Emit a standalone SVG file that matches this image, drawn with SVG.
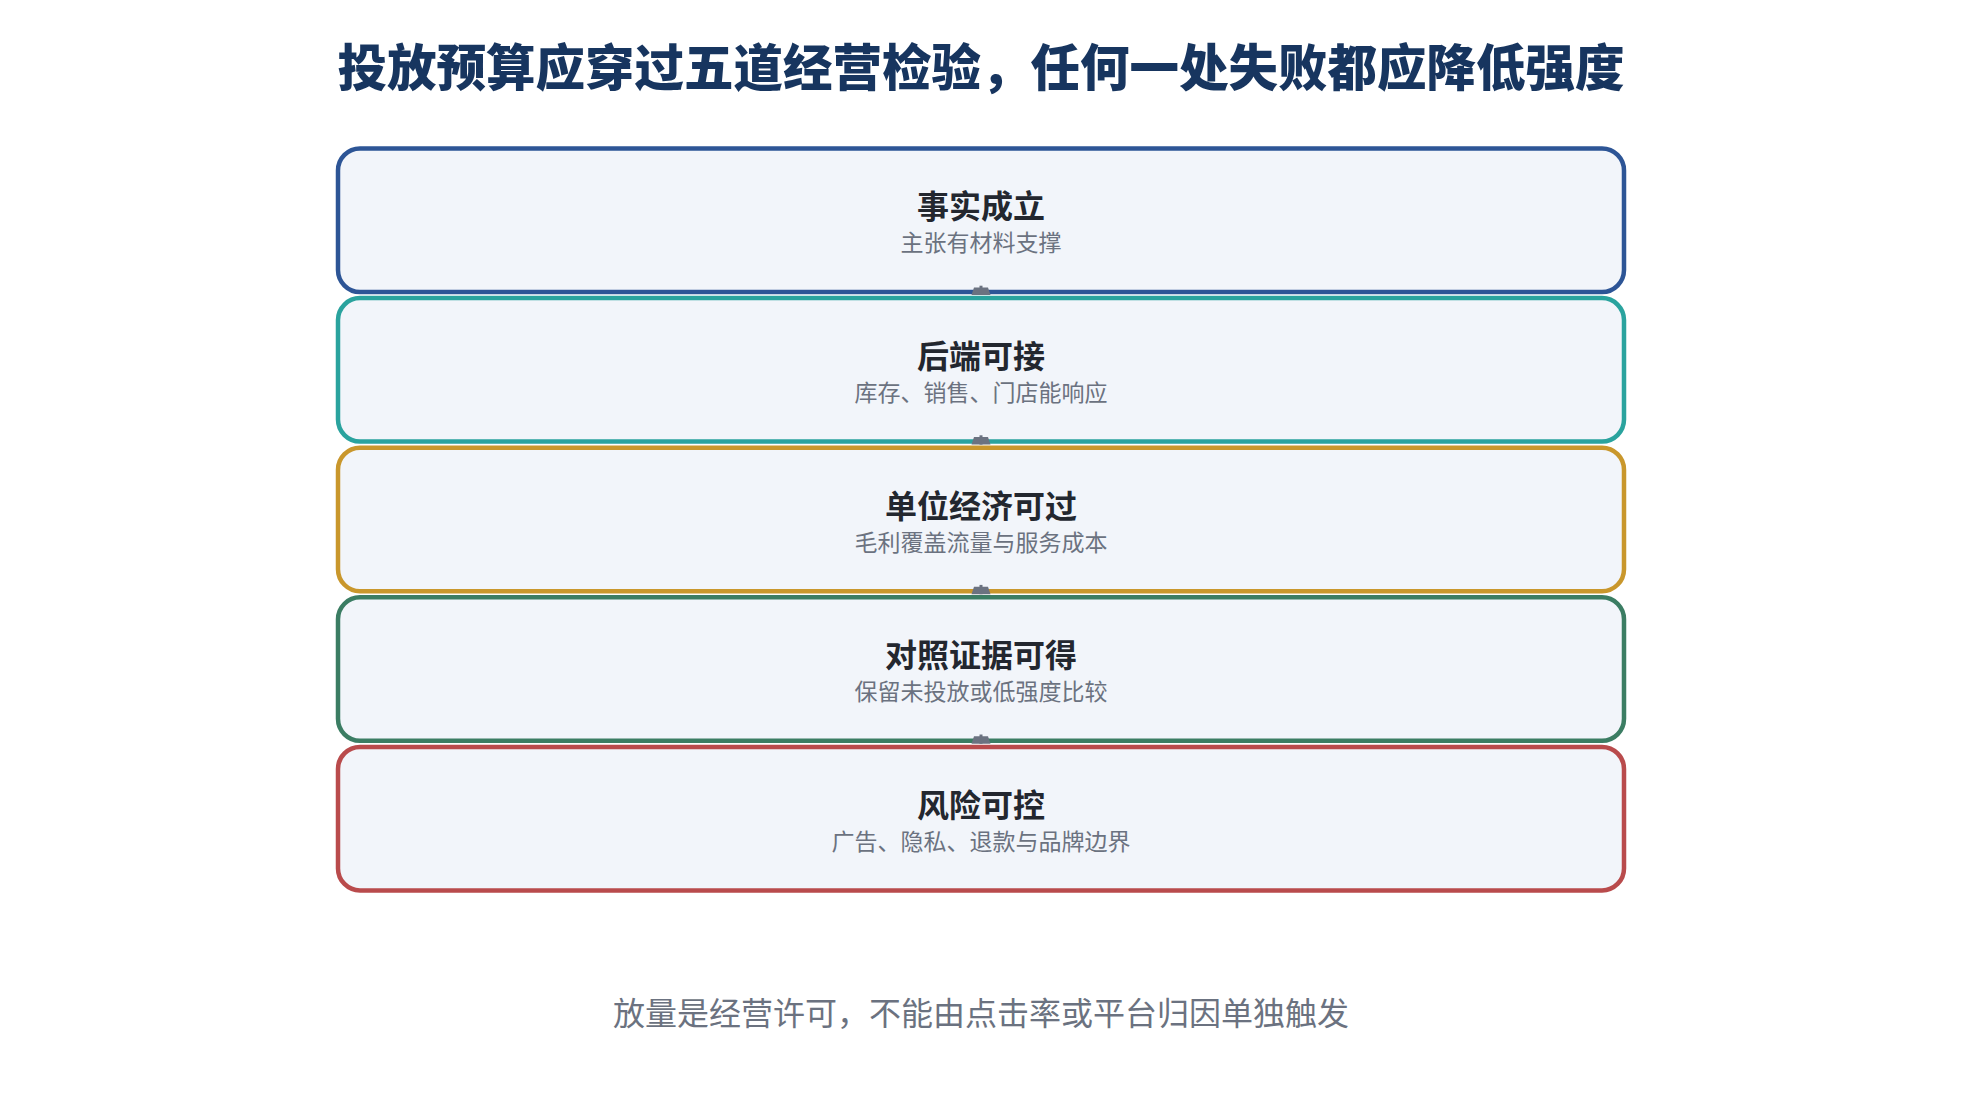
<svg xmlns="http://www.w3.org/2000/svg" width="1962" height="1109" viewBox="0 0 1962 1109">
<defs>
<style>
text{font-family:"Noto Sans CJK SC","Noto Sans",sans-serif;text-anchor:middle}
.title{font-size:49.5px;font-weight:900;fill:#17355f}
.box{fill:#f2f5fa;stroke-width:4.5}
.nt{font-size:32px;font-weight:700;fill:#23272f}
.ns{font-size:23px;fill:#6b7280}
.foot{font-size:32px;fill:#6b7280}
.edge{stroke:#6b7280;stroke-width:3;fill:none}
</style>
<marker id="cap" markerUnits="userSpaceOnUse" viewBox="-10 -10 20 20" refX="0" refY="0" markerWidth="20" markerHeight="20" orient="auto">
<path d="M-7.5,7 L-7.5,-7 L0,-9.5 L0,9.5 Z" fill="#6b7280"/>
</marker>
</defs>
<rect width="1962" height="1109" fill="#ffffff"/>
<text class="title" x="981" y="86">投放预算应穿过五道经营检验，任何一处失败都应降低强度</text>
<g id="node1">
<rect class="box" x="338" y="148.5" width="1286" height="143.5" rx="22" stroke="#2d5596"/>
<text class="nt" x="981" y="218.3">事实成立</text>
<text class="ns" x="981" y="251.3">主张有材料支撑</text>
</g>
<g id="node2">
<rect class="box" x="338" y="298.1" width="1286" height="143.5" rx="22" stroke="#2aa39e"/>
<text class="nt" x="981" y="367.9">后端可接</text>
<text class="ns" x="981" y="400.9">库存、销售、门店能响应</text>
</g>
<g id="node3">
<rect class="box" x="338" y="447.7" width="1286" height="143.5" rx="22" stroke="#c9972c"/>
<text class="nt" x="981" y="517.5">单位经济可过</text>
<text class="ns" x="981" y="550.5">毛利覆盖流量与服务成本</text>
</g>
<g id="node4">
<rect class="box" x="338" y="597.3" width="1286" height="143.5" rx="22" stroke="#3b7d63"/>
<text class="nt" x="981" y="667.1">对照证据可得</text>
<text class="ns" x="981" y="700.1">保留未投放或低强度比较</text>
</g>
<g id="node5">
<rect class="box" x="338" y="746.9" width="1286" height="143.5" rx="22" stroke="#b94b4c"/>
<text class="nt" x="981" y="816.7">风险可控</text>
<text class="ns" x="981" y="849.7">广告、隐私、退款与品牌边界</text>
</g>
<g id="connectors">
<path class="edge" d="M981,285.7 L981,295" marker-end="url(#cap)"/>
<path class="edge" d="M981,435.3 L981,444.6" marker-end="url(#cap)"/>
<path class="edge" d="M981,584.9 L981,594.2" marker-end="url(#cap)"/>
<path class="edge" d="M981,734.5 L981,743.8" marker-end="url(#cap)"/>
</g>
<text class="foot" x="981" y="1024.5">放量是经营许可，不能由点击率或平台归因单独触发</text>
</svg>
